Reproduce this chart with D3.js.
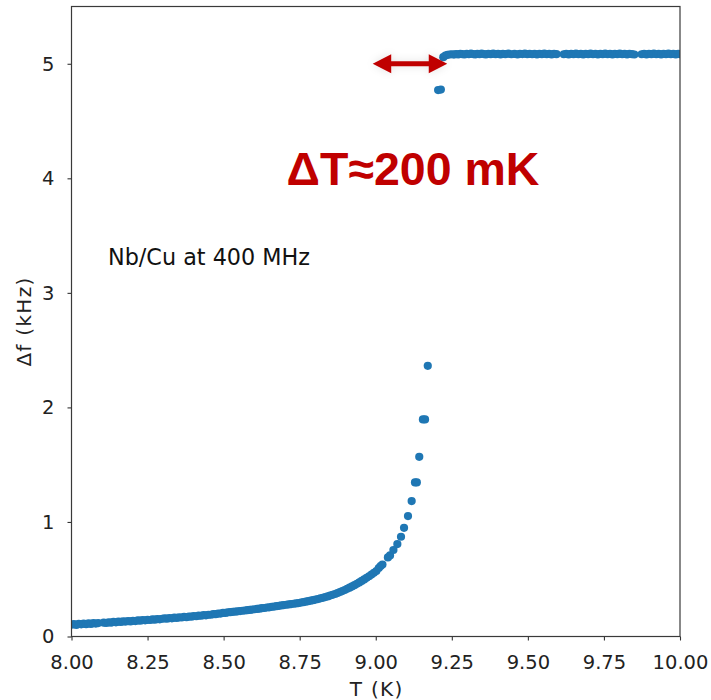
<!DOCTYPE html>
<html>
<head>
<meta charset="utf-8">
<script src="https://cdn.jsdelivr.net/npm/d3@7"></script>
<style>
  html, body { margin: 0; padding: 0; background: #fff; }
  svg { display: block; }
  .tick text { font-family: "DejaVu Sans", sans-serif; font-size: 19.5px; fill: #222; }
</style>
</head>
<body>
<div id="chart"></div>
<script>
// Frequency shift of the Nb/Cu cavity versus temperature.

// Normal-conducting branch, below the transition (T in K, Δf in kHz)
const lowT = [
  8.000, 8.008, 8.016, 8.024, 8.032, 8.040, 8.048, 8.056, 8.064, 8.072, 8.080, 8.088,
  8.106, 8.114, 8.122, 8.130, 8.138, 8.146, 8.154, 8.162, 8.170, 8.178, 8.186, 8.194,
  8.202, 8.210, 8.218, 8.226, 8.234, 8.242, 8.250, 8.258, 8.266, 8.274, 8.282, 8.290,
  8.298, 8.306, 8.314, 8.322, 8.330, 8.338, 8.346, 8.354, 8.362, 8.370, 8.378, 8.386,
  8.394, 8.402, 8.410, 8.418, 8.426, 8.434, 8.442, 8.450, 8.458, 8.466, 8.474, 8.482,
  8.490, 8.498, 8.506, 8.514, 8.522, 8.530, 8.538, 8.546, 8.554, 8.562, 8.570, 8.578,
  8.586, 8.594, 8.602, 8.610, 8.618, 8.626, 8.634, 8.642, 8.650, 8.658, 8.666, 8.674,
  8.682, 8.690, 8.698, 8.706, 8.714, 8.722, 8.730, 8.738, 8.746, 8.754, 8.762, 8.770,
  8.778, 8.786, 8.794, 8.802, 8.810, 8.818, 8.826, 8.834, 8.842, 8.850, 8.858, 8.866,
  8.874, 8.882, 8.890, 8.898, 8.906, 8.914, 8.922, 8.930, 8.938, 8.946, 8.954, 8.962,
  8.970, 8.978, 8.986, 8.994, 9.002, 9.010, 9.016, 9.022, 9.040, 9.047, 9.058, 9.071,
  9.083, 9.093, 9.106, 9.118, 9.129, 9.135, 9.143, 9.155, 9.162, 9.171
];
const lowDf = [
  0.103, 0.108, 0.101, 0.110, 0.106, 0.112, 0.108, 0.114, 0.110, 0.116, 0.113, 0.117,
  0.121, 0.118, 0.124, 0.121, 0.127, 0.124, 0.129, 0.127, 0.132, 0.130, 0.135, 0.132,
  0.137, 0.135, 0.140, 0.138, 0.143, 0.141, 0.146, 0.144, 0.149, 0.147, 0.152, 0.150,
  0.155, 0.158, 0.156, 0.161, 0.159, 0.164, 0.162, 0.167, 0.166, 0.171, 0.169, 0.174,
  0.173, 0.178, 0.177, 0.182, 0.181, 0.186, 0.185, 0.190, 0.190, 0.195, 0.195, 0.200,
  0.200, 0.206, 0.206, 0.211, 0.212, 0.215, 0.217, 0.220, 0.222, 0.225, 0.227, 0.230,
  0.232, 0.235, 0.238, 0.241, 0.243, 0.247, 0.249, 0.253, 0.255, 0.259, 0.261, 0.265,
  0.268, 0.271, 0.274, 0.277, 0.280, 0.283, 0.286, 0.289, 0.292, 0.296, 0.300, 0.304,
  0.308, 0.313, 0.317, 0.322, 0.327, 0.333, 0.338, 0.344, 0.350, 0.357, 0.364, 0.371,
  0.379, 0.388, 0.397, 0.406, 0.416, 0.426, 0.437, 0.448, 0.460, 0.472, 0.485, 0.498,
  0.512, 0.526, 0.541, 0.556, 0.572, 0.598, 0.615, 0.628, 0.690, 0.708, 0.755, 0.807,
  0.871, 0.949, 1.051, 1.182, 1.345, 1.345, 1.569, 1.895, 1.895, 2.363
];

// Two points caught mid-jump
const jumpT  = [9.205, 9.214];
const jumpDf = [4.770, 4.775];

// Plateau above the transition
const highT = [
  9.222, 9.229, 9.236, 9.243, 9.250, 9.257, 9.264, 9.271, 9.278, 9.285, 9.292, 9.299,
  9.306, 9.313, 9.320, 9.327, 9.334, 9.341, 9.348, 9.355, 9.362, 9.370, 9.378, 9.386,
  9.394, 9.402, 9.410, 9.418, 9.426, 9.436, 9.446, 9.456, 9.466, 9.474, 9.482, 9.490,
  9.498, 9.506, 9.514, 9.522, 9.530, 9.538, 9.546, 9.554, 9.562, 9.570, 9.578, 9.586,
  9.594, 9.618, 9.626, 9.634, 9.642, 9.650, 9.658, 9.666, 9.674, 9.682, 9.690, 9.698,
  9.706, 9.714, 9.722, 9.730, 9.738, 9.746, 9.754, 9.762, 9.770, 9.778, 9.786, 9.794,
  9.802, 9.810, 9.818, 9.826, 9.834, 9.842, 9.850, 9.874, 9.882, 9.890, 9.898, 9.906,
  9.914, 9.922, 9.930, 9.938, 9.946, 9.954, 9.962, 9.970, 9.978, 9.986, 9.994, 10.000
];
const highDf = [
  5.058, 5.072, 5.078, 5.081, 5.083, 5.080, 5.085, 5.082, 5.087, 5.084, 5.081, 5.086,
  5.083, 5.088, 5.085, 5.082, 5.087, 5.084, 5.089, 5.085, 5.082, 5.087, 5.084, 5.088,
  5.083, 5.086, 5.082, 5.087, 5.084, 5.088, 5.083, 5.086, 5.082, 5.087, 5.085, 5.089,
  5.084, 5.087, 5.083, 5.086, 5.082, 5.087, 5.084, 5.088, 5.083, 5.086, 5.082, 5.087,
  5.084, 5.083, 5.086, 5.082, 5.087, 5.084, 5.088, 5.083, 5.086, 5.082, 5.087, 5.084,
  5.088, 5.083, 5.086, 5.082, 5.087, 5.084, 5.088, 5.083, 5.086, 5.082, 5.087, 5.084,
  5.088, 5.083, 5.086, 5.082, 5.087, 5.084, 5.081, 5.083, 5.086, 5.082, 5.087, 5.084,
  5.088, 5.083, 5.086, 5.082, 5.087, 5.084, 5.088, 5.083, 5.086, 5.082, 5.087, 5.084
];

const xTicks = [8.00, 8.25, 8.50, 8.75, 9.00, 9.25, 9.50, 9.75, 10.00];
const yTicks = [0, 1, 2, 3, 4, 5];

// Transition-width marker: double arrow at Δf = 5 kHz
const arrowFrom = 8.99, arrowTo = 9.235, arrowLevel = 5.0;

const W = 711, H = 700;
const margin = { top: 6.5, right: 31, bottom: 63.5, left: 71.5 };
const iw = W - margin.left - margin.right;
const ih = H - margin.top - margin.bottom;

const svg = d3.select("#chart").append("svg").attr("width", W).attr("height", H);
const defs = svg.append("defs");
defs.append("clipPath").attr("id", "plot-clip")
  .append("rect").attr("width", iw).attr("height", ih);
const glow = defs.append("filter").attr("id", "arrow-glow")
  .attr("x", "-30%").attr("y", "-120%").attr("width", "160%").attr("height", "340%");
glow.append("feGaussianBlur").attr("in", "SourceAlpha").attr("stdDeviation", 4).attr("result", "b");
glow.append("feFlood").attr("flood-color", "#000").attr("flood-opacity", 0.12);
glow.append("feComposite").attr("in2", "b").attr("operator", "in").attr("result", "s");
const merge = glow.append("feMerge");
merge.append("feMergeNode").attr("in", "s");
merge.append("feMergeNode").attr("in", "SourceGraphic");

const g = svg.append("g").attr("transform", `translate(${margin.left},${margin.top})`);

const x = d3.scaleLinear().domain([8, 10]).range([0, iw]);
const y = d3.scaleLinear().domain([0, 5.5]).range([ih, 0]);

// Axes
const xAxis = g.append("g").attr("transform", `translate(0,${ih})`)
  .call(d3.axisBottom(x).tickValues(xTicks).tickFormat(d3.format(".2f")).tickSize(4).tickPadding(14.5));
const yAxis = g.append("g")
  .call(d3.axisLeft(y).tickValues(yTicks).tickFormat(d3.format("d")).tickSize(4).tickPadding(13));
[xAxis, yAxis].forEach(a => {
  a.select(".domain").remove();
  a.selectAll(".tick line").attr("stroke", "#333").attr("stroke-width", 1.1);
});

// Scatter points
const pts = []
  .concat(lowT.map((t, i) => [t, lowDf[i]]))
  .concat(jumpT.map((t, i) => [t, jumpDf[i]]))
  .concat(highT.map((t, i) => [t, highDf[i]]));

g.append("g").attr("clip-path", "url(#plot-clip)")
  .selectAll("circle").data(pts).join("circle")
  .attr("cx", d => x(d[0]))
  .attr("cy", d => y(d[1]))
  .attr("r", 4.1)
  .attr("fill", "#1f77b4");

// Frame
g.append("rect").attr("width", iw).attr("height", ih)
  .attr("fill", "none").attr("stroke", "#3a3a3a").attr("stroke-width", 1.2);

// Double-headed arrow
const ax0 = x(arrowFrom), ax1 = x(arrowTo), ay = y(arrowLevel);
const headL = 18.5, headH = 9.5, shaft = 2.6;
const arrowPath = [
  [ax0, ay], [ax0 + headL, ay - headH], [ax0 + headL, ay - shaft],
  [ax1 - headL, ay - shaft], [ax1 - headL, ay - headH], [ax1, ay],
  [ax1 - headL, ay + headH], [ax1 - headL, ay + shaft],
  [ax0 + headL, ay + shaft], [ax0 + headL, ay + headH]
];
g.append("path")
  .attr("d", d3.line()(arrowPath) + "Z")
  .attr("fill", "#c00000")
  .attr("filter", "url(#arrow-glow)");

// Annotations
g.append("text")
  .attr("x", 413 - margin.left).attr("y", 185 - margin.top)
  .attr("text-anchor", "middle")
  .style("font-family", "'Liberation Sans', Arial, sans-serif")
  .style("font-weight", "bold").style("font-size", "46.5px")
  .attr("fill", "#c00000")
  .text("ΔT≈200 mK");

g.append("text")
  .attr("x", 108 - margin.left).attr("y", 265 - margin.top)
  .style("font-family", "'DejaVu Sans', sans-serif").style("font-size", "22.3px")
  .attr("fill", "#111")
  .text("Nb/Cu at 400 MHz");

// Axis titles
svg.append("text")
  .attr("x", margin.left + iw / 2 + 1).attr("y", 696)
  .attr("text-anchor", "middle")
  .style("font-family", "'DejaVu Sans', sans-serif").style("font-size", "20px")
  .style("letter-spacing", "1.3px")
  .attr("fill", "#222")
  .text("T (K)");

svg.append("text")
  .attr("transform", `translate(30.5,${margin.top + ih / 2}) rotate(-90)`)
  .attr("text-anchor", "middle")
  .style("font-family", "'DejaVu Sans', sans-serif").style("font-size", "20px")
  .style("letter-spacing", "1.3px")
  .attr("fill", "#222")
  .text("Δf (kHz)");
</script>
</body>
</html>
